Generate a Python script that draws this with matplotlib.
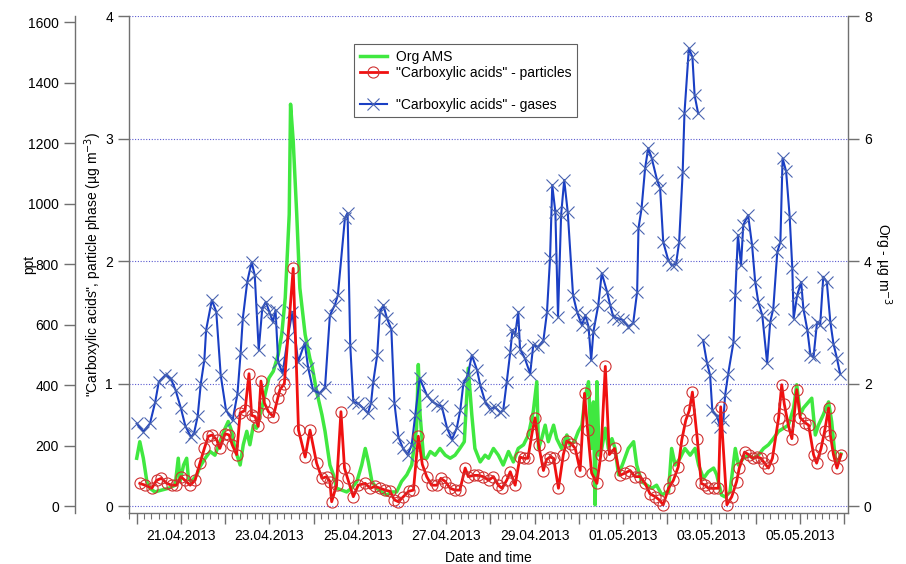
import numpy as np
import matplotlib
matplotlib.use("Agg")
import matplotlib.pyplot as plt
import matplotlib.dates as mdates
from matplotlib.lines import Line2D
from matplotlib.ticker import FuncFormatter
from datetime import datetime

plt.rcParams['font.family'] = ['Liberation Sans', 'DejaVu Sans']
plt.rcParams['font.size'] = 10

# time given as day of April 2013 (32.5 = 02.05 12:00)
gas_day = [20.00, 20.15, 20.30, 20.42, 20.50, 20.65, 20.77, 20.88, 21.00, 21.10,
           21.23, 21.30, 21.38, 21.45, 21.53, 21.57, 21.70, 21.80, 21.90, 22.02,
           22.17, 22.28, 22.35, 22.40, 22.50, 22.60, 22.67, 22.76, 22.84, 22.92,
           23.00, 23.08, 23.14, 23.20, 23.30, 23.42, 23.52, 23.65, 23.80, 23.88,
           23.99, 24.14, 24.26, 24.37, 24.48, 24.55, 24.71, 24.77, 24.83, 24.90,
           25.00, 25.12, 25.23, 25.30, 25.35, 25.44, 25.50, 25.58, 25.66, 25.76,
           25.83, 25.92, 26.02, 26.13, 26.22, 26.30, 26.40, 26.56, 26.68, 26.80,
           26.90, 27.02, 27.13, 27.24, 27.32, 27.39, 27.49, 27.58, 27.70, 27.77,
           27.88, 27.99, 28.10, 28.22, 28.29, 28.37, 28.45, 28.50, 28.56, 28.63,
           28.67, 28.78, 28.90, 28.97, 29.08, 29.20, 29.28, 29.35, 29.40, 29.47,
           29.53, 29.60, 29.67, 29.75, 29.87, 29.96, 30.07, 30.15, 30.22, 30.28,
           30.33, 30.44, 30.52, 30.64, 30.71, 30.78, 30.89, 31.00, 31.12, 31.23,
           31.32, 31.35, 31.42, 31.50, 31.57, 31.65, 31.77, 31.84, 31.91, 32.02,
           32.10, 32.20, 32.27, 32.35, 32.39, 32.49, 32.57, 32.62, 32.70, 32.75,
           32.81, 32.90, 32.97, 33.02, 33.13, 33.20, 33.27, 33.31, 33.38, 33.50,
           33.54, 33.60, 33.67, 33.72, 33.83, 33.92, 33.99, 34.06, 34.15, 34.26,
           34.33, 34.40, 34.49, 34.56, 34.61, 34.69, 34.77, 34.83, 34.86, 34.94,
           35.03, 35.08, 35.17, 35.24, 35.31, 35.39, 35.46, 35.53, 35.61, 35.69,
           35.76, 35.84, 35.91]
gas_ppt = [273, 246, 273, 345, 411, 433, 422, 383, 323, 265,
           227, 243, 298, 405, 483, 582, 681, 642, 433, 317,
           284, 372, 505, 620, 741, 807, 763, 516, 653, 675,
           642, 609, 648, 477, 438, 560, 642, 476, 539, 456,
           383, 373, 393, 631, 664, 697, 952, 969, 532, 344,
           340, 324, 307, 340, 410, 499, 641, 664, 621, 584,
           340, 228, 192, 169, 202, 301, 423, 368, 346, 335,
           330, 258, 220, 258, 318, 405, 433, 499, 449, 400,
           346, 320, 327, 310, 316, 410, 509, 582, 565, 642,
           520, 488, 438, 532, 526, 548, 640, 820, 1061, 972,
           626, 962, 1078, 972, 697, 642, 598, 631, 593, 482,
           576, 664, 770, 708, 664, 626, 620, 615, 593, 604,
           708, 918, 984, 1117, 1183, 1150, 1078, 1050, 873, 815,
           796, 801, 873, 1104, 1298, 1513, 1485, 1358, 1298, np.nan,
           549, 473, 433, 317, 295, 262, 284, 367, 438, 543,
           697, 896, 796, 929, 962, 862, 741, 675, 631, 473,
           609, 653, 840, 873, 1150, 1106, 957, 786, 620, 697,
           741, 653, 582, 499, 493, 609, 598, 758, 741, 609,
           537, 488, 438]

part_day = [20.07, 20.19, 20.34, 20.45, 20.56, 20.68, 20.79, 20.90, 21.00, 21.09,
            21.21, 21.32, 21.43, 21.53, 21.62, 21.71, 21.81, 21.88, 22.00, 22.09,
            22.16, 22.26, 22.34, 22.45, 22.54, 22.60, 22.68, 22.75, 22.81, 22.89,
            22.98, 23.09, 23.19, 23.24, 23.34, 23.54, 23.66, 23.81, 23.92, 24.07,
            24.19, 24.30, 24.37, 24.41, 24.52, 24.62, 24.70, 24.77, 24.90, 25.01,
            25.17, 25.28, 25.39, 25.51, 25.62, 25.73, 25.83, 25.92, 26.03, 26.15,
            26.26, 26.37, 26.46, 26.56, 26.67, 26.79, 26.88, 26.98, 27.09, 27.20,
            27.31, 27.43, 27.50, 27.62, 27.73, 27.84, 27.96, 28.07, 28.18, 28.26,
            28.37, 28.45, 28.56, 28.67, 28.75, 28.85, 28.94, 29.01, 29.09, 29.20,
            29.27, 29.35, 29.43, 29.54, 29.65, 29.73, 29.83, 29.92, 30.03, 30.13,
            30.20, 30.29, 30.41, 30.50, 30.60, 30.69, 30.81, 30.93, 31.05, 31.16,
            31.27, 31.39, 31.50, 31.61, 31.73, 31.82, 31.91, 32.03, 32.14, 32.25,
            32.33, 32.42, 32.50, 32.57, 32.68, 32.77, 32.86, 32.93, 33.05, 33.16,
            33.21, 33.35, 33.46, 33.57, 33.63, 33.75, 33.84, 33.93, 34.03, 34.12,
            34.20, 34.29, 34.38, 34.52, 34.59, 34.65, 34.74, 34.82, 34.93, 35.01,
            35.12, 35.20, 35.31, 35.38, 35.48, 35.56, 35.65, 35.69, 35.76, 35.84,
            35.93]
part_ug = [0.185, 0.17, 0.145, 0.21, 0.226, 0.185, 0.17, 0.17, 0.24, 0.21,
           0.17, 0.21, 0.35, 0.47, 0.57, 0.58, 0.54, 0.47, 0.59, 0.58,
           0.50, 0.42, 0.76, 0.78, 1.08, 0.74, 0.73, 0.65, 1.02, 0.84,
           0.77, 0.73, 0.88, 0.95, 1.00, 1.94, 0.62, 0.40, 0.62, 0.35,
           0.226, 0.24, 0.20, 0.035, 0.17, 0.77, 0.31, 0.226, 0.076, 0.17,
           0.185, 0.145, 0.16, 0.145, 0.13, 0.12, 0.05, 0.035, 0.076, 0.12,
           0.13, 0.57, 0.34, 0.24, 0.17, 0.17, 0.226, 0.20, 0.145, 0.13,
           0.13, 0.31, 0.24, 0.25, 0.25, 0.24, 0.21, 0.24, 0.17, 0.145,
           0.21, 0.28, 0.17, 0.40, 0.39, 0.39, 0.59, 0.72, 0.50, 0.29,
           0.38, 0.40, 0.39, 0.145, 0.42, 0.53, 0.51, 0.47, 0.29, 0.92,
           0.62, 0.27, 0.185, 0.42, 1.14, 0.42, 0.47, 0.25, 0.27, 0.29,
           0.24, 0.24, 0.185, 0.10, 0.076, 0.05, 0.01, 0.145, 0.21, 0.32,
           0.54, 0.70, 0.78, 0.93, 0.55, 0.185, 0.17, 0.145, 0.145, 0.145,
           0.81, 0.01, 0.076, 0.20, 0.31, 0.44, 0.42, 0.39, 0.40, 0.39,
           0.35, 0.31, 0.39, 0.72, 0.99, 0.83, 0.66, 0.55, 0.95, 0.72,
           0.68, 0.66, 0.42, 0.35, 0.47, 0.61, 0.80, 0.58, 0.42, 0.31,
           0.42]

org_day = [20.00, 20.07, 20.15, 20.23, 20.30, 20.41, 20.56, 20.72, 20.87, 20.94,
           20.98, 21.06, 21.13, 21.17, 21.24, 21.36, 21.43, 21.55, 21.66, 21.77,
           21.88, 22.00, 22.07, 22.15, 22.22, 22.34, 22.41, 22.49, 22.56, 22.64,
           22.71, 22.83, 22.90, 22.99, 23.09, 23.20, 23.28, 23.36, 23.42, 23.45,
           23.48, 23.54, 23.62, 23.69, 23.81, 23.92, 23.96, 24.07, 24.19, 24.26,
           24.37, 24.45, 24.52, 24.64, 24.75, 24.86, 24.98, 25.09, 25.17, 25.24,
           25.32, 25.43, 25.54, 25.66, 25.77, 25.88, 25.99, 26.11, 26.22, 26.33,
           26.37, 26.41, 26.49, 26.56, 26.64, 26.75, 26.86, 26.98, 27.09, 27.20,
           27.31, 27.41, 27.50, 27.58, 27.65, 27.77, 27.88, 27.96, 28.07, 28.18,
           28.29, 28.41, 28.52, 28.63, 28.75, 28.86, 28.97, 29.05, 29.09, 29.16,
           29.24, 29.31, 29.43, 29.50, 29.61, 29.73, 29.80, 29.90, 29.99, 30.07,
           30.14, 30.22, 30.28, 30.33, 30.37, 30.41, 30.46, 30.52, 30.60, 30.67,
           30.75, 30.82, 30.90, 31.01, 31.12, 31.24, 31.31, 31.42, 31.54, 31.65,
           31.76, 31.88, 31.99, 32.03, 32.10, 32.18, 32.29, 32.40, 32.52, 32.63,
           32.71, 32.82, 32.93, 33.05, 33.12, 33.23, 33.31, 33.42, 33.54, 33.61,
           33.72, 33.84, 33.95, 34.06, 34.18, 34.29, 34.40, 34.52, 34.63, 34.74,
           34.86, 34.93, 35.01, 35.08, 35.20, 35.27, 35.35, 35.42, 35.53, 35.65,
           35.72, 35.80, 35.87, 35.93]
org_ug = [0.78, 1.05, 0.78, 0.40, 0.29, 0.23, 0.26, 0.29, 0.34, 0.78,
          0.40, 0.67, 0.78, 0.45, 0.40, 0.51, 0.64, 0.78, 0.89, 0.83,
          1.05, 1.27, 1.38, 1.22, 0.94, 0.67, 1.00, 1.22, 1.00, 1.32,
          1.27, 1.60, 1.81, 2.09, 2.20, 2.47, 2.80, 3.40, 4.30, 4.76,
          6.56, 5.96, 4.76, 3.56, 2.80, 2.40, 2.31, 1.87, 1.49, 1.22,
          0.67, 0.51, 0.29, 0.26, 0.23, 0.29, 0.40, 0.67, 0.94, 0.72,
          0.40, 0.29, 0.23, 0.18, 0.23, 0.23, 0.40, 0.51, 0.67, 1.27,
          2.31, 1.49, 0.78, 0.78, 0.89, 0.83, 0.94, 0.83, 0.78, 0.83,
          0.94, 1.05, 2.25, 1.49, 0.94, 0.72, 0.83, 0.78, 0.94, 0.83,
          0.67, 0.89, 0.72, 0.94, 1.00, 1.16, 1.54, 2.03, 0.94, 1.10,
          1.32, 1.05, 1.32, 1.10, 0.94, 1.16, 1.00, 1.05, 1.22, 1.32,
          1.76, 2.03, 0.94, 1.70, 0.02, 2.03, 0.83, 0.94, 1.27, 0.94,
          1.10, 0.94, 0.51, 0.72, 0.94, 1.05, 0.67, 0.40, 0.34, 0.29,
          0.34, 0.18, 0.23, 0.23, 0.94, 0.67, 0.78, 0.94, 0.83, 0.94,
          0.67, 0.45, 0.56, 0.62, 0.51, 0.18, 0.15, 0.23, 0.94, 0.67,
          0.78, 0.83, 0.78, 0.83, 0.94, 1.00, 1.10, 1.22, 1.27, 1.32,
          1.60, 1.98, 1.49, 1.60, 1.70, 1.76, 1.16, 1.32, 1.49, 1.70,
          1.38, 0.78, 0.72, 0.85]

t0 = mdates.date2num(datetime(2013, 4, 1))
def to_num(days):
    return t0 + np.array(days, dtype=float) - 1

fig = plt.figure(figsize=(9.06, 5.64), dpi=100)
ax = fig.add_axes([0.1424, 0.0904, 0.7936, 0.8812])
ax_org = ax.twinx()
ax_ppt = ax.twinx()

ax_org.set_zorder(1)
ax_ppt.set_zorder(2)
ax.set_zorder(3)
ax.patch.set_visible(False)
ax_ppt.patch.set_visible(False)

gcol = '#707070'
grid_col = '#5a5ad0'

# green org
ax_org.plot(to_num(org_day), org_ug, color='#40e840', lw=2.5, solid_joinstyle='round')
ax_org.set_ylim(-0.114, 8.0)
ax_org.set_yticks([0, 2, 4, 6, 8])
ax_org.set_ylabel('Org - µg m$^{-3}$', rotation=270, labelpad=16)
for y in [0, 2, 4, 6, 8]:
    ax_org.axhline(y, color=grid_col, lw=0.8, ls=(0, (1, 1.5)), zorder=0)

# blue gases
ax_ppt.plot(to_num(gas_day), gas_ppt, color='#1a3fc4', lw=1.5, marker='x', ms=9,
            mec='#4a64b0', mew=0.8)
ax_ppt.set_ylim(-23, 1620)
ax_ppt.set_yticks(range(0, 1601, 200))
ax_ppt.yaxis.set_label_position('left')
ax_ppt.yaxis.set_ticks_position('left')
ax_ppt.spines['left'].set_position(('outward', 39))
ax_ppt.set_ylabel('ppt', labelpad=-6)

# red particles
ax.plot(to_num(part_day), part_ug, color='#f01010', lw=2.0, marker='o', ms=8,
        mfc='none', mec='#d03030', mew=0.8)
ax.set_ylim(-0.057, 4.0)
ax.set_yticks([0, 1, 2, 3, 4])
ax.set_ylabel('"Carboxylic acids", particle phase (µg m$^{-3}$)', labelpad=1)

ax.set_xlim(t0 + 18.826, t0 + 35.09)
ax.xaxis.set_major_locator(mdates.DayLocator())
ax.xaxis.set_minor_locator(mdates.HourLocator(byhour=[4, 8, 12, 16, 20]))
ref = mdates.date2num(datetime(2013, 4, 21))
def date_fmt(x, pos):
    n = int(round(x - ref))
    return mdates.num2date(x).strftime('%d.%m.%Y') if n % 2 == 0 else ''
ax.xaxis.set_major_formatter(FuncFormatter(date_fmt))
ax.set_xlabel('Date and time', labelpad=6)

for a in (ax, ax_org, ax_ppt):
    a.spines['top'].set_visible(False)
    for s in a.spines.values():
        s.set_color(gcol)
        s.set_linewidth(1.0)
    a.tick_params(which='both', direction='out', color=gcol, labelcolor='black')
    a.tick_params(which='major', length=8, width=1.0)
    a.tick_params(which='minor', length=4, width=0.8)
ax.spines['right'].set_visible(False)
ax_org.spines['left'].set_visible(False)
ax_org.spines['bottom'].set_visible(False)
ax_ppt.spines['right'].set_visible(False)
ax_ppt.spines['bottom'].set_visible(False)
ax_org.tick_params(axis='x', which='both', bottom=False, labelbottom=False)
ax_ppt.tick_params(axis='x', which='both', bottom=False, labelbottom=False)

handles = [
    Line2D([], [], color='#40e840', lw=2.5),
    Line2D([], [], color='#f01010', lw=2.0, marker='o', ms=8, mfc='none', mec='#d03030', mew=0.8),
    Line2D([], [], color='none'),
    Line2D([], [], color='#1a3fc4', lw=1.5, marker='x', ms=9, mec='#4a64b0', mew=0.8),
]
labels = ['Org AMS', '"Carboxylic acids" - particles', '', '"Carboxylic acids" - gases']
leg = ax.legend(handles, labels, loc='upper left', bbox_to_anchor=(354 / 906, 1 - 44 / 564),
                bbox_transform=fig.transFigure, fancybox=False, framealpha=1,
                edgecolor='#606060', handlelength=2.0, labelspacing=0.15,
                borderpad=0.4, handletextpad=0.6, borderaxespad=0)
leg.get_frame().set_linewidth(0.8)

fig.savefig('out.png', dpi=100)
